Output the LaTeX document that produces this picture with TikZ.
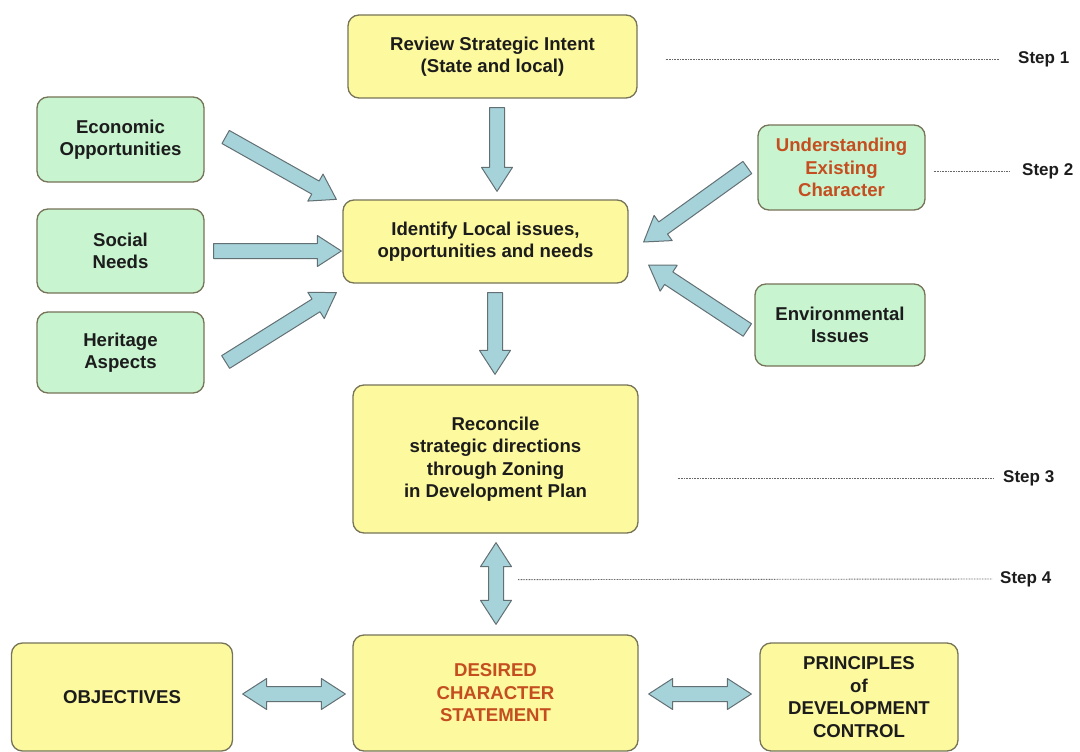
\documentclass[tikz,border=0pt]{standalone}
\usepackage{fontspec}
\setmainfont{Liberation Sans}
\usetikzlibrary{calc}

\definecolor{boxyellow}{RGB}{253,249,158}
\definecolor{boxgreen}{RGB}{200,244,208}
\definecolor{boxedge}{RGB}{118,116,88}
\definecolor{arrowfill}{RGB}{166,210,218}
\definecolor{arrowedge}{RGB}{98,112,116}
\definecolor{textdark}{RGB}{28,28,28}
\definecolor{accent}{RGB}{196,78,32}

\newcommand\boxfont{\fontsize{18.6}{22.5}\selectfont\bfseries}
\newcommand\stepfont{\fontsize{17}{19}\selectfont\bfseries}

% block arrow geometry
\newcommand\bashaft{7.5pt}
\newcommand\bahalf{15.5pt}
\newcommand\bahead{24pt}

% single-headed block arrow from #1 to #2
\newcommand\blockarrow[2]{%
  \path #1 coordinate (baA) #2 coordinate (baB);
  \coordinate (baC) at ($(baB)!\bahead!(baA)$);
  \filldraw[blockarrow]
    ($(baA)!\bashaft!90:(baB)$) -- ($(baC)!\bashaft!90:(baB)$) --
    ($(baC)!\bahalf!90:(baB)$) -- (baB) --
    ($(baC)!\bahalf!-90:(baB)$) -- ($(baC)!\bashaft!-90:(baB)$) --
    ($(baA)!\bashaft!-90:(baB)$) -- cycle;
}
% double-headed block arrow between #1 and #2
\newcommand\blockarrowboth[2]{%
  \path #1 coordinate (baA) #2 coordinate (baB);
  \coordinate (baC) at ($(baA)!\bahead!(baB)$);
  \coordinate (baD) at ($(baB)!\bahead!(baA)$);
  \filldraw[blockarrow]
    (baA) -- ($(baC)!\bahalf!90:(baB)$) -- ($(baC)!\bashaft!90:(baB)$) --
    ($(baD)!\bashaft!90:(baB)$) -- ($(baD)!\bahalf!90:(baB)$) -- (baB) --
    ($(baD)!\bahalf!-90:(baB)$) -- ($(baD)!\bashaft!-90:(baB)$) --
    ($(baC)!\bashaft!-90:(baB)$) -- ($(baC)!\bahalf!-90:(baB)$) -- cycle;
}

\tikzset{
  box/.style={draw=boxedge, line width=1.3pt, rounded corners=11pt,
    align=center, inner sep=0pt, font=\boxfont, text=textdark},
  yellowbox/.style={box, fill=boxyellow},
  greenbox/.style={box, fill=boxgreen},
  blockarrow/.style={fill=arrowfill, draw=arrowedge, line width=1pt, line join=round},
  stepline/.style={draw=black!60, line width=0.9pt, dash pattern=on 0.8pt off 0.8pt},
  steplabel/.style={anchor=west, font=\stepfont, inner sep=0pt, text=textdark},
}

\begin{document}
\begin{tikzpicture}[x=1pt, y=-1pt]
\fill[white] (0,0) rectangle (1080,752);
\useasboundingbox (0,0) rectangle (1080,752);

% ---- boxes ----
\node[yellowbox, minimum width=289pt, minimum height=83pt] (review) at (492.5,56.5)
  {Review Strategic Intent\\(State and local)};
\node[greenbox, minimum width=167pt, minimum height=85pt] (eco) at (120.5,139.5)
  {Economic\\Opportunities};
\node[greenbox, minimum width=167pt, minimum height=84pt] (social) at (120.5,251)
  {Social\\Needs};
\node[greenbox, minimum width=167pt, minimum height=81pt] (heritage) at (120.5,352.5)
  {Heritage\\Aspects};
\node[yellowbox, minimum width=285pt, minimum height=83pt] (identify) at (485.5,241.5)
  {Identify Local issues,\\opportunities and needs};
\node[greenbox, minimum width=167pt, minimum height=85pt, text=accent] (understand) at (841.5,167.5)
  {Understanding\\Existing\\Character};
\node[greenbox, minimum width=170pt, minimum height=82pt] (env) at (840,325)
  {Environmental\\Issues};
\node[yellowbox, minimum width=285pt, minimum height=148pt] (reconcile) at (495.5,459)
  {Reconcile\\strategic directions\\through Zoning\\in Development Plan};
\node[yellowbox, minimum width=221pt, minimum height=108pt] (objectives) at (122,697)
  {OBJECTIVES};
\node[yellowbox, minimum width=285pt, minimum height=116pt, text=accent] (desired) at (495.5,693)
  {DESIRED\\CHARACTER\\STATEMENT};
\node[yellowbox, minimum width=198pt, minimum height=108pt] (principles) at (859,697)
  {PRINCIPLES\\of\\DEVELOPMENT\\CONTROL};

% ---- block arrows ----
\blockarrow{($(review.south)+(4.5,9)$)}{($(identify.north)+(11.5,-8)$)}
\blockarrow{($(eco.east)+(21,-2.5)$)}{($(identify.north west)+(-6,0)$)}
\blockarrow{($(social.east)+(9,0)$)}{($(identify.west)+(-1,9.5)$)}
\blockarrow{($(heritage.east)+(21,9.5)$)}{($(identify.south west)+(-6,9)$)}
\blockarrow{($(understand.west)+(-10,0)$)}{($(identify.east)+(15,0.5)$)}
\blockarrow{($(env.west)+(-7,5)$)}{($(identify.east)+(20,23.5)$)}
\blockarrow{($(identify.south)+(9.5,9)$)}{($(reconcile.north)+(-0.5,-10)$)}
\blockarrowboth{($(reconcile.south)+(0.5,9)$)}{($(desired.north)+(0.5,-10)$)}
\blockarrowboth{($(objectives.east)+(9.5,-3)$)}{($(desired.west)+(-7,1)$)}
\blockarrowboth{($(desired.east)+(10,1)$)}{($(principles.west)+(-8,-3)$)}

% ---- step markers ----
\node[steplabel] (step1) at (1018,59) {Step 1};
\node[steplabel] (step2) at (1022,171) {Step 2};
\node[steplabel] (step3) at (1003,478) {Step 3};
\node[steplabel] (step4) at (1000,579) {Step 4};

\coordinate (s1) at ($(review.east)+(28,2.5)$);
\coordinate (s2) at ($(understand.east)+(8,3.5)$);
\coordinate (s3) at ($(reconcile.east)+(39,19)$);
\coordinate (s4) at ($(reconcile.south)+(22.5,46)$);
\draw[stepline] (s1) -- ($(step1.west)+(-18,0)$);
\draw[stepline] (s2) -- ($(step2.west)+(-12,0)$);
\draw[stepline] (s3) -- ($(step3.west)+(-10,0)$);
\draw[stepline] (s4) -- ($(step4.west)+(-8,0)$);
\end{tikzpicture}
\end{document}
